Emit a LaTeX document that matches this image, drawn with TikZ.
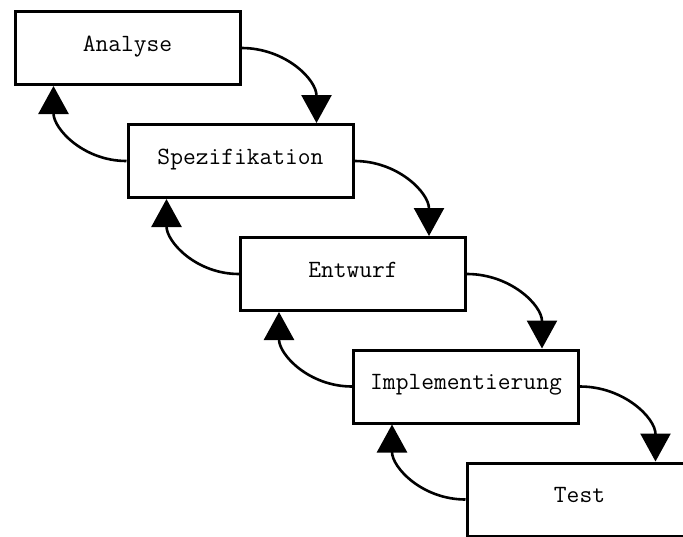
\documentclass[tikz,border=0pt]{standalone}
\usepackage{fontspec}
\usetikzlibrary{arrows.meta,calc}
\begin{document}
\begin{tikzpicture}[x=1pt,y=1pt,
  phase/.style={draw, line width=3pt, fill=white,
    minimum width=225pt, minimum height=73pt, inner sep=0pt,
    font=\ttfamily\addfontfeatures{FakeBold=0.8}\fontsize{24.8}{25}\selectfont,
    text height=15pt, text depth=9pt},
  flow/.style={line width=2.6pt, looseness=1.05,
    -{Triangle[length=28pt,width=30pt]}}]
  % canvas
  \useasboundingbox (0,0) rectangle (683,-536);
  \clip (0,0) rectangle (683,-536);
  \fill[white] (0,0) rectangle (683,-536);

  % phases of the waterfall
  \node[phase] (ana)  at (127.5,-48)   {Analyse};
  \node[phase] (spez) at (240.5,-161)  {Spezifikation};
  \node[phase] (entw) at (353,-274)    {Entwurf};
  \node[phase] (impl) at (466,-386.5)  {Implementierung};
  \node[phase] (test) at (579.5,-499.5) {Test};

  % forward transitions
  \draw[flow] (ana.east)  to[out=0,in=90] ($(spez.north)+(76,0)$);
  \draw[flow] (spez.east) to[out=0,in=90] ($(entw.north)+(76,0)$);
  \draw[flow] (entw.east) to[out=0,in=90] ($(impl.north)+(76,0)$);
  \draw[flow] (impl.east) to[out=0,in=90] ($(test.north)+(76,0)$);

  % feedback transitions
  \draw[flow] (spez.west) to[out=180,in=-90] ($(ana.south)+(-74,0)$);
  \draw[flow] (entw.west) to[out=180,in=-90] ($(spez.south)+(-74,0)$);
  \draw[flow] (impl.west) to[out=180,in=-90] ($(entw.south)+(-74,0)$);
  \draw[flow] (test.west) to[out=180,in=-90] ($(impl.south)+(-74,0)$);
\end{tikzpicture}
\end{document}
